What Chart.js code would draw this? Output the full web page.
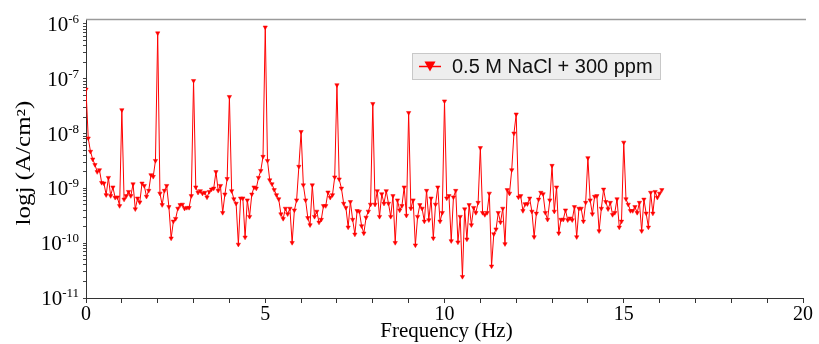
<!DOCTYPE html>
<html><head><meta charset="utf-8">
<script src="https://cdn.jsdelivr.net/npm/chart.js@4.4.1/dist/chart.umd.min.js"></script>
<style>html,body{margin:0;padding:0;background:#fff;overflow:hidden}</style>
</head><body>
<canvas id="c" width="819" height="344"></canvas>
<script>
// ---- data ----
const seriesLabel = '0.5 M NaCl + 300 ppm';
const xAxisTitle = 'Frequency (Hz)';
const yAxisTitle = 'logj (A/cm²)';
const freqStep = 0.0625; // Hz, sampling grid of the spectrum
const currentDensity = [
  6.4e-8, 8.2e-9, 4.7e-9, 3.4e-9, 2.7e-9, 2.0e-9, 2.17e-9, 1.27e-9, 1.24e-9, 7.6e-10, 1.57e-9, 7.3e-10, 1.05e-9, 6.8e-10, 6.9e-10, 4.8e-10,
  2.7e-8, 6.3e-10, 7.3e-10, 8.7e-10, 7.3e-10, 1.2e-9, 4.2e-10, 6.6e-10, 5.6e-10, 1.24e-9, 1.12e-9, 7.1e-10, 9.1e-10, 1.76e-9, 1.64e-9, 3.2e-9,
  6.8e-7, 8.1e-10, 5.0e-10, 9.1e-10, 1.12e-9, 4.6e-10, 1.23e-10, 2.5e-10, 2.8e-10, 4.3e-10, 5.0e-10, 5.1e-10, 4.3e-10, 4.45e-10, 4.45e-10, 7.3e-10,
  9.2e-8, 1.05e-9, 8.4e-10, 9.0e-10, 8.1e-10, 8.4e-10, 6.9e-10, 8.7e-10, 9.6e-10, 1.0e-9, 2.0e-9, 9.1e-10, 1.12e-9, 3.6e-10, 7.8e-10, 1.5e-9,
  4.7e-8, 9.0e-10, 6.4e-10, 5.3e-10, 9.5e-11, 6.6e-10, 6.6e-10, 1.28e-10, 6.1e-10, 3.05e-10, 7.8e-10, 1.05e-9, 1.0e-9, 1.57e-9, 2.1e-9, 3.8e-9,
  8.7e-7, 3.2e-9, 1.42e-9, 1.2e-9, 9.4e-10, 7.6e-10, 6.4e-10, 3.4e-10, 2.8e-10, 4.3e-10, 3.4e-10, 4.3e-10, 1.02e-10, 4.0e-10, 6.1e-10, 2.5e-9,
  1.08e-8, 1.15e-9, 6.1e-10, 2.9e-10, 2.15e-10, 1.15e-9, 3.05e-10, 3.8e-10, 2.4e-10, 2.7e-10, 4.8e-10, 4.8e-10, 8.5e-10, 6.8e-10, 7.6e-10, 1.6e-9,
  7.7e-8, 1.47e-9, 1.0e-9, 5.3e-10, 4.45e-10, 1.95e-10, 5.7e-10, 2.7e-10, 1.45e-10, 3.9e-10, 3.8e-10, 2.06e-10, 1.52e-10, 2.95e-10, 3.8e-10, 5.1e-10,
  3.5e-8, 5.1e-10, 9.0e-10, 3.05e-10, 7.9e-10, 5.3e-10, 9.0e-10, 5.3e-10, 3.05e-10, 7.3e-10, 1.02e-10, 6.1e-10, 4.0e-10, 4.8e-10, 1.05e-9, 3.2e-10,
  2.4e-8, 4.3e-10, 6.1e-10, 9.2e-11, 3.05e-10, 5.0e-10, 4.3e-10, 2.5e-10, 9.1e-10, 2.65e-10, 6.6e-10, 1.23e-10, 5.1e-10, 1.05e-9, 2.5e-10, 3.6e-10,
  3.9e-8, 6.6e-10, 7.3e-10, 1.1e-10, 6.9e-10, 9.1e-10, 1.04e-10, 3.05e-10, 2.45e-11, 4.2e-10, 1.18e-10, 5.0e-10, 2.15e-10, 4.45e-10, 3.6e-10, 5.5e-10,
  5.5e-9, 3.6e-10, 3.3e-10, 3.6e-10, 8.1e-10, 3.8e-11, 1.47e-10, 1.8e-10, 3.6e-10, 2.4e-10, 4.3e-10, 9.7e-11, 9.4e-10, 8.1e-10, 2.17e-9, 1.01e-8,
  2.25e-8, 6.9e-10, 7.3e-10, 3.9e-10, 5.2e-10, 5.2e-10, 6.6e-10, 3.8e-10, 1.3e-10, 3.5e-10, 6.3e-10, 8.4e-10, 7.9e-10, 3.6e-10, 2.7e-10, 6.1e-10,
  2.6e-9, 3.8e-10, 1.05e-9, 1.52e-10, 2.7e-10, 2.7e-10, 4.0e-10, 2.65e-10, 2.85e-10, 2.65e-10, 4.6e-10, 1.3e-10, 4.3e-10, 4.3e-10, 2.5e-10, 5.5e-10,
  3.6e-9, 6.1e-10, 3.4e-10, 7.1e-10, 7.3e-10, 1.67e-10, 4.3e-10, 9.6e-10, 5.7e-10, 4.2e-10, 5.5e-10, 3.3e-10, 3.6e-10, 6.4e-10, 1.95e-10, 2.5e-10,
  6.9e-9, 6.4e-10, 5.1e-10, 3.9e-10, 3.9e-10, 4.6e-10, 3.6e-10, 5.5e-10, 1.67e-10, 6.3e-10, 3.5e-10, 1.95e-10, 8.4e-10, 3.5e-10, 8.7e-10, 6.8e-10,
  8.1e-10, 9.4e-10
];
const xTickLabels = [0, 5, 10, 15, 20];
const yDecadeExponents = [-11, -10, -9, -8, -7, -6];

const frequencies = currentDensity.map((_, i) => i * freqStep);
const points = currentDensity.map((v, i) => ({ x: frequencies[i], y: v }));

const SERIF = '"Liberation Serif", "Times New Roman", serif';
const SANS = '"Liberation Sans", Arial, sans-serif';
const RED = '#ff0000';

const framePlugin = {
  id: 'frame',
  afterDraw(chart) {
    const { ctx, chartArea: a } = chart;
    ctx.save();
    ctx.strokeStyle = '#9a9a9a';
    ctx.lineWidth = 1.5;
    ctx.beginPath();
    ctx.moveTo(a.left, a.top + 0.5);
    ctx.lineTo(a.right + 3, a.top + 0.5);
    ctx.stroke();
    ctx.restore();
  }
};

const axisTitlePlugin = {
  id: 'axisTitles',
  afterDraw(chart) {
    const { ctx, chartArea: a } = chart;
    ctx.save();
    ctx.fillStyle = '#000';
    ctx.textAlign = 'center';
    ctx.textBaseline = 'middle';
    ctx.save();
    ctx.translate((a.left + a.right) / 2 + 2, 331);
    ctx.font = '21px ' + SERIF;
    ctx.fillText(xAxisTitle, 0, 0);
    ctx.restore();
    ctx.save();
    ctx.translate(25, 163);
    ctx.rotate(-Math.PI / 2);
    ctx.scale(1, 0.8);
    ctx.font = '25px ' + SERIF;
    ctx.fillText(yAxisTitle, 0, 0);
    ctx.restore();
    ctx.restore();
  }
};

const yLabelPlugin = {
  id: 'yLabels',
  afterDraw(chart) {
    const { ctx } = chart;
    const ys = chart.scales.y;
    const rightEdge = ys.right - 7;
    ctx.save();
    ctx.fillStyle = '#000';
    ctx.textBaseline = 'alphabetic';
    yDecadeExponents.forEach(e => {
      const py = ys.getPixelForValue(Math.pow(10, e));
      const expText = String(e);
      ctx.font = '13px ' + SERIF;
      const ew = ctx.measureText(expText).width;
      ctx.font = '21px ' + SERIF;
      const bw = ctx.measureText('10').width;
      const x0 = rightEdge - ew - bw;
      ctx.textAlign = 'left';
      ctx.fillText('10', x0, py + 7);
      ctx.font = '13px ' + SERIF;
      ctx.fillText(expText, x0 + bw, py - 1);
    });
    ctx.restore();
  }
};

const legendPlugin = {
  id: 'boxLegend',
  afterDraw(chart) {
    const { ctx } = chart;
    const ds = chart.data.datasets[0];
    const bx = 412, by = 53, bw = 249, bh = 27;
    ctx.save();
    ctx.fillStyle = '#eeeeee';
    ctx.fillRect(bx, by, bw, bh);
    ctx.strokeStyle = '#c8c8c8';
    ctx.lineWidth = 1;
    ctx.strokeRect(bx + 0.5, by + 0.5, bw - 1, bh - 1);
    const cy = by + bh / 2;
    ctx.strokeStyle = ds.borderColor;
    ctx.lineWidth = 1.5;
    ctx.beginPath();
    ctx.moveTo(bx + 7, cy);
    ctx.lineTo(bx + 29, cy);
    ctx.stroke();
    const tx = bx + 18;
    ctx.fillStyle = ds.borderColor;
    ctx.beginPath();
    ctx.moveTo(tx - 5.5, cy - 5);
    ctx.lineTo(tx + 5.5, cy - 5);
    ctx.lineTo(tx, cy + 5);
    ctx.closePath();
    ctx.fill();
    ctx.fillStyle = '#111';
    ctx.font = '20px ' + SANS;
    ctx.textBaseline = 'middle';
    ctx.textAlign = 'left';
    ctx.fillText(ds.label, bx + 40, cy + 1);
    ctx.restore();
  }
};

new Chart(document.getElementById('c'), {
  type: 'line',
  data: {
    datasets: [{
      label: seriesLabel,
      data: points,
      borderColor: RED,
      backgroundColor: RED,
      borderWidth: 1,
      pointStyle: 'triangle',
      rotation: 180,
      pointRadius: 2.5,
      pointBorderWidth: 0.5,
      pointBackgroundColor: RED,
      pointBorderColor: RED,
      tension: 0,
      fill: false
    }]
  },
  options: {
    responsive: false,
    animation: false,
    events: [],
    layout: { padding: { top: 19, right: 16, left: 0, bottom: 0 } },
    plugins: { legend: { display: false }, tooltip: { enabled: false }, title: { display: false } },
    scales: {
      x: {
        type: 'linear',
        min: 0, max: 20,
        afterFit(s) { s.height = 46; },
        afterBuildTicks(s) {
          const t = [];
          for (let v = 0; v <= 20; v++) t.push({ value: v });
          s.ticks = t;
        },
        ticks: {
          autoSkip: false, maxRotation: 0, padding: 0,
          color: '#000',
          font: { family: SERIF, size: 20 },
          callback: (v) => xTickLabels.includes(v) ? String(v) : ''
        },
        grid: { drawOnChartArea: false, drawTicks: true, tickLength: 5, color: '#333', lineWidth: 1 },
        border: { display: true, color: '#333', width: 1 },
        title: { display: false }
      },
      y: {
        type: 'logarithmic',
        min: 1e-11, max: 1.23e-6,
        afterFit(s) { s.width = 86; },
        afterBuildTicks(s) {
          const t = [];
          yDecadeExponents.forEach(e => {
            for (let m = 1; m <= 9; m++) {
              const v = m * Math.pow(10, e);
              if (v <= s.max * 1.0001) t.push({ value: v, major: m === 1 });
            }
          });
          s.ticks = t;
        },
        ticks: { display: false },
        grid: { drawOnChartArea: false, drawTicks: true, tickLength: 3, color: '#444', lineWidth: 1 },
        border: { display: true, color: '#333', width: 1 },
        title: { display: false }
      }
    }
  },
  plugins: [framePlugin, yLabelPlugin, axisTitlePlugin, legendPlugin]
});
</script>
</body></html>
